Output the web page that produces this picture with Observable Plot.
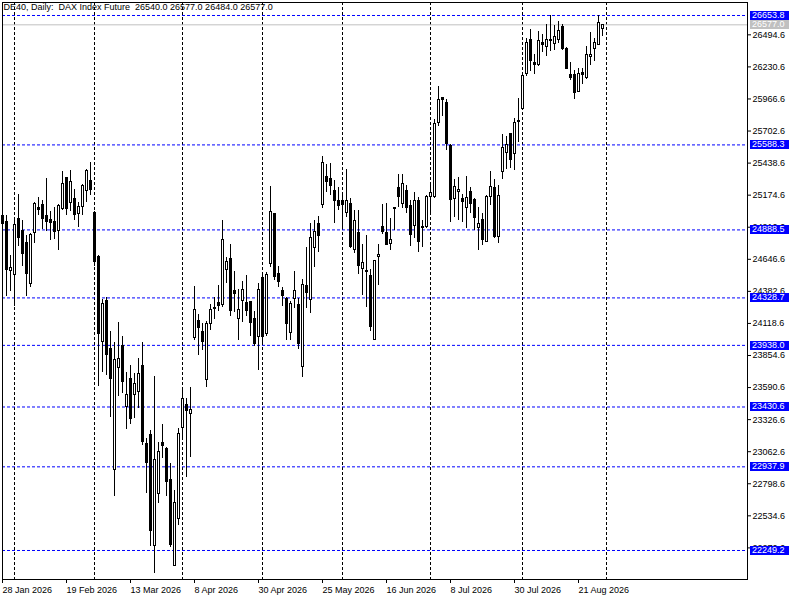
<!DOCTYPE html>
<html><head><meta charset="utf-8">
<script src="https://cdn.jsdelivr.net/npm/d3@7"></script>
<script src="https://cdn.jsdelivr.net/npm/@observablehq/plot@0.6"></script>
<style>body{margin:0;background:#fff;} svg{display:block}</style>
</head><body><div id="chart"></div>
<script>
const opens = [25004,24954,24553,24514,24979,24880,24778,24440,24861,25073,
25092,25004,24971,24954,24880,25064,25312,25114,25147,25023,
25081,25207,25292,25029,24666,23967,24307,23909,22909,23753,
23931,23430,23657,23526,23553,23772,23129,23197,22285,22718,
23137,23088,22833,22123,22512,23260,23449,23375,23995,24137,
24045,23649,24118,24247,24290,24274,24561,24651,24383,24159,
24301,24290,24296,24154,24009,24495,24028,24610,25020,24528,
24383,24318,24036,24318,24269,23763,24424,24310,24741,24938,
25093,25325,25306,25211,25129,25129,25025,25101,24725,24864,
24569,24547,24506,23982,24667,24916,24861,24774,25063,25230,
25102,25211,25088,24918,25129,24905,24910,25156,25156,25771,
25976,25930,25580,25143,25203,25143,25069,25197,25137,24905,
24970,24787,25162,25233,24828,25362,25521,25675,25515,25779,
25887,26175,26456,26266,26244,26431,26395,26442,26423,26450,
26555,26376,26167,26162,26024,26184,26140,26313,26382,26409,
26540];
const highs = [25020,25009,24674,24976,25183,24962,24839,24858,25114,25152,
25128,25312,25037,25073,25100,25367,25320,25375,25224,25114,
25265,25383,25444,25037,24674,24316,24334,24052,23964,24129,
24011,23718,23772,23710,23827,23964,23170,23238,23682,23137,
23288,23101,22964,22745,23252,23594,23499,23594,24424,24192,
24118,24132,24274,24329,24432,24965,24659,24766,24547,24397,
24465,24514,24301,24214,24446,24536,24536,25243,25025,24588,
24413,24329,24300,24547,24323,24479,24741,24938,24965,24998,
25489,25424,25437,25293,25238,25197,25388,25148,25047,25052,
24768,24842,24561,24637,24768,25101,25107,24979,25074,25348,
25348,25257,25129,25197,25156,24965,25170,25266,25799,26067,
25982,25963,25594,25307,25320,25184,25326,25238,25151,25074,
25020,25170,25367,25307,25252,25675,25658,25680,25804,25969,
26175,26464,26538,26332,26519,26500,26582,26650,26569,26607,
26582,26387,26266,26197,26217,26217,26395,26514,26464,26653.8,
26577];
const lows = [24920,24344,24385,24261,24751,24591,24344,24413,24778,25004,
24894,24872,24798,24811,24715,25050,25004,25037,24962,24908,
25009,25114,25174,24591,23601,23711,23690,23348,22696,23518,
23540,23246,23288,23334,23416,23115,22718,22285,22060,22635,
23005,22696,22274,22120,22457,23183,22849,23011,23982,23853,
23894,23591,24058,24154,24214,24249,24446,24173,24206,23976,
24124,24173,24015,23927,23730,23933,24009,24583,24473,24413,
24255,23982,23975,24241,23905,23673,24241,24200,24583,24706,
25066,25197,25170,24943,25052,24910,24992,24738,24697,24520,
24350,24247,24050,23976,24432,24847,24760,24719,24883,25074,
25061,25020,24754,24815,24705,24746,24897,25006,25148,25739,
25826,25539,24951,24992,24965,24951,24897,25020,24883,24719,
24760,24782,25088,24815,24774,25300,25386,25392,25378,25612,
25881,26148,26189,26167,26236,26346,26313,26354,26368,26423,
26368,26210,26120,25961,26019,26085,26129,26239,26272,26404,
26484];
const closes = [24935,24561,24575,24927,24825,24693,24528,24847,25100,25053,
24982,24957,24949,24875,25086,25265,25064,25284,25012,25078,
25251,25375,25216,24624,24033,24275,23860,23663,23814,23827,
23635,23526,23329,23622,23704,23142,22970,22408,22992,23057,
23109,22813,22293,22644,23205,23498,23394,23403,24228,24077,
23968,24118,24233,24236,24260,24806,24624,24222,24364,24233,
24397,24222,24126,23949,24397,24009,24514,25039,24501,24460,
24345,24113,24282,24383,23949,24438,24370,24823,24875,24837,
25437,25279,25246,25123,25082,25096,25129,24746,24965,24591,
24613,24542,24091,24629,24686,24875,24765,24806,25069,25156,
25266,25066,24847,25129,24787,24910,25162,25192,25763,25957,
25955,25594,25134,25244,25219,25121,25151,25102,24987,24938,
24806,25162,25238,24828,25170,25563,25590,25466,25771,25785,
26156,26431,26277,26250,26445,26415,26456,26456,26478,26525,
26382,26217,26140,26019,26175,26167,26327,26332,26431,26596,
26577];

const dateTickIndex = [0,16,32,48,64,80,96,112,128,144];
const dateTickLabels = ["28 Jan 2026","19 Feb 2026","13 Mar 2026","8 Apr 2026","30 Apr 2026","25 May 2026","16 Jun 2026","8 Jul 2026","30 Jul 2026","21 Aug 2026"];
const monthGridIndex = [3,23,45,65,85,107,130,151];
const priceTicks = [22270.6,22534.6,22798.6,23062.6,23326.6,23590.6,23854.6,24118.6,24382.6,24646.6,24910.6,25174.6,25438.6,25702.6,25966.6,26230.6,26494.6];
const levels = [26653.8,25588.3,24888.5,24328.7,23938.0,23430.6,22937.9,22249.2];
const lastPrice = 26577.0;
const titleText = "DE40, Daily:  DAX Index Future  26540.0 26577.0 26484.0 26577.0";

const bars = opens.map((o, i) => ({i, o, h: highs[i], l: lows[i], c: closes[i]}));
const upBars = bars.filter(d => d.c >= d.o);
const labelMap = new Map(dateTickIndex.map((d, k) => [d, dateTickLabels[k]]));
const FONT = "'Liberation Sans', Arial, sans-serif";

const chart = Plot.plot({
  width: 800, height: 600,
  marginLeft: 2, marginRight: 53, marginTop: 2, marginBottom: 21,
  x: {type: "linear", domain: [0, 186.25], axis: null},
  y: {type: "linear", domain: [22010.4, 26760.8], axis: null},
  style: {fontFamily: FONT, fontSize: "9px", color: "black", background: "white"},
  marks: [
    Plot.ruleX(monthGridIndex, {stroke: "black", strokeDasharray: "3,2"}),
    Plot.ruleY(levels, {stroke: "#0000ff", strokeDasharray: "3,2"}),
    Plot.ruleY([lastPrice], {stroke: "#c0c0c0"}),
    Plot.ruleX(bars, {x: "i", y1: "l", y2: "h", stroke: "black", shapeRendering: "crispEdges"}),
    // candle bodies: black block 3px wide, hollow (white core) for rising bars
    Plot.rect(bars, {x1: d => d.i - 0.375, x2: d => d.i + 0.375, y1: "o", y2: "c", fill: "black", insetTop: -0.5, insetBottom: -0.5, shapeRendering: "crispEdges"}),
    Plot.rect(upBars, {x1: d => d.i - 0.125, x2: d => d.i + 0.125, y1: "o", y2: "c", fill: "white", insetTop: 0.5, insetBottom: 0.5, shapeRendering: "crispEdges"}),
    Plot.frame({stroke: "black"}),
    Plot.axisX({anchor: "bottom", ticks: dateTickIndex, tickFormat: d => labelMap.get(d), tickSize: 4, tickPadding: 3, textAnchor: "start", fontSize: 9, label: null}),
    Plot.axisY({anchor: "right", ticks: priceTicks, tickFormat: d => d.toFixed(1), tickSize: 3, tickPadding: 2, fontSize: 9, label: null}),
    Plot.text([titleText], {frameAnchor: "top-left", dx: 1, dy: 1, text: d => d.replace(/  /g, " \u00a0"), fontSize: 9, fill: "black"})
  ]
});

document.getElementById("chart").appendChild(chart);

// price level label boxes on the right axis, positioned with the plot's y scale
const ys = chart.scale("y");
const boxX = 800 - 53 + 3;
const g = d3.select(chart).append("g").attr("font-family", FONT).attr("font-size", 9).attr("text-anchor", "start");
function addBox(v, color) {
  const y = ys.apply(v);
  g.append("rect").attr("x", boxX).attr("y", Math.round(y) - 4).attr("width", 39).attr("height", 9).attr("fill", color);
  g.append("text").attr("x", boxX + 2).attr("y", Math.round(y) + 0.5).attr("dy", "0.32em").attr("fill", "white").text(v.toFixed(1));
}
levels.forEach(v => addBox(v, "#0000ff"));
addBox(lastPrice, "#c0c0c0");
</script>
</body></html>
